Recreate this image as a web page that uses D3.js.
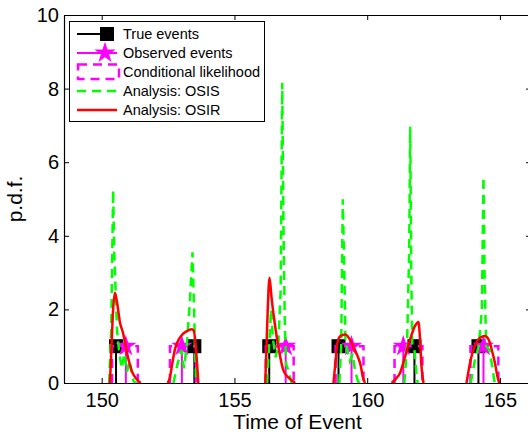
<!DOCTYPE html>
<html>
<head>
<meta charset="utf-8">
<script src="https://cdn.jsdelivr.net/npm/d3@7"></script>
<style>
  body { margin: 0; background: #fff; }
  svg { display: block; font-family: "Liberation Sans", Arial, sans-serif; }
</style>
</head>
<body>
<div id="chart"></div>
<script>
let W = 528, H = 432;

// event times
let trueTimes = [150.54, 153.49, 156.31, 158.92, 161.78, 164.19];
let obsTimes = [150.91, 153.02, 156.93, 159.41, 161.36, 164.38];
// conditional likelihood box edges
let likLo = [150.39, 152.57, 156.18, 158.81, 161.03, 163.89];
let likHi = [151.36, 153.55, 157.23, 159.86, 162.08, 164.94];

// OSIS pdfs (time, density)
let osis = [
  [[150.28,0],[150.36,1.5],[150.43,5.25],[150.47,3.6],[150.52,2.6],[150.58,1.4],[150.65,0.9],[150.75,0.4],[150.85,0.8],[150.95,0.3],[151.05,0.6],[151.2,0.05],[151.3,0]],
  [[152.7,0],[152.85,0.5],[153.0,0.9],[153.1,0.4],[153.2,1.0],[153.32,2.2],[153.42,3.55],[153.48,2.0],[153.52,0.8],[153.56,0]],
  [[156.22,0],[156.3,0.9],[156.38,2.0],[156.45,1.2],[156.55,0.7],[156.65,1.0],[156.74,2.5],[156.8,8.16],[156.85,4.0],[156.9,1.5],[156.95,0.5],[157.05,0.3],[157.15,0]],
  [[158.95,0],[159.02,1.0],[159.08,4.99],[159.14,3.0],[159.18,1.2],[159.25,0.9],[159.35,0.6],[159.45,0.8],[159.55,0.3],[159.65,0.05],[159.7,0]],
  [[161.4,0],[161.5,1.0],[161.58,3.5],[161.62,6.96],[161.66,3.0],[161.7,1.0],[161.78,0.9],[161.85,0.3],[161.9,0]],
  [[163.9,0],[164.05,0.6],[164.2,1.0],[164.32,2.0],[164.38,5.6],[164.42,3.0],[164.48,1.0],[164.6,0.9],[164.7,0.5],[164.8,0]]
];

// OSIR pdfs (time, density)
let osir = [
  [[150.31,0],[150.37,1.0],[150.43,2.0],[150.5,2.45],[150.58,2.18],[150.69,1.64],[150.8,1.37],[150.98,0.73],[151.13,0.33],[151.32,0.1],[151.47,0]],
  [[152.48,0],[152.57,0.15],[152.64,0.45],[152.76,0.92],[152.94,1.23],[153.21,1.41],[153.39,1.46],[153.47,1.42],[153.55,0.92],[153.64,0]],
  [[156.16,0],[156.23,1.5],[156.32,2.86],[156.4,2.3],[156.48,1.82],[156.67,0.92],[156.85,0.33],[157.08,0.12],[157.29,0]],
  [[158.73,0],[158.81,0.6],[158.88,1.1],[159.0,1.28],[159.17,1.32],[159.38,1.14],[159.52,0.9],[159.64,0.73],[159.76,0.46],[159.84,0.15],[159.92,0]],
  [[160.92,0],[161.06,0.1],[161.24,0.28],[161.43,0.73],[161.62,1.19],[161.8,1.55],[161.93,1.66],[161.99,1.2],[162.04,0.5],[162.12,0]],
  [[163.74,0],[163.81,0.3],[163.9,0.64],[164.06,1.01],[164.25,1.23],[164.44,1.28],[164.62,1.1],[164.71,0.85],[164.81,0.55],[164.9,0.2],[164.97,0]]
];

let xTicks = [150, 155, 160, 165];
let yTicks = [0, 2, 4, 6, 8, 10];
let legendLabels = ["True events", "Observed events", "Conditional likelihood", "Analysis: OSIS", "Analysis: OSIR"];

let pLeft = 64, pRight = 531, pTop = 15, pBottom = 383;

let svg = d3.select("#chart").append("svg")
  .attr("width", W)
  .attr("height", H);

let x = d3.scaleLinear().domain([148.58, 166.17]).range([pLeft, pRight]);
let y = d3.scaleLinear().domain([0, 10]).range([pBottom, pTop]);

let plot = svg.append("g");

let magenta = "#ff00ff", green = "#00ff00", red = "#ff0000";

// true events: stems + squares
trueTimes.forEach(function(t){
  plot.append("line")
    .attr("x1", x(t)).attr("x2", x(t))
    .attr("y1", y(0)).attr("y2", y(1))
    .attr("stroke", "#000").attr("stroke-width", 2);
  plot.append("path")
    .attr("d", d3.symbol(d3.symbolSquare).size(196)())
    .attr("transform", "translate(" + x(t) + "," + y(1) + ")")
    .attr("fill", "#000");
});

// observed events: stems + stars
obsTimes.forEach(function(t){
  plot.append("line")
    .attr("x1", x(t)).attr("x2", x(t))
    .attr("y1", y(0)).attr("y2", y(1))
    .attr("stroke", magenta).attr("stroke-width", 2);
  plot.append("path")
    .attr("d", d3.symbol(d3.symbolStar).size(140)())
    .attr("transform", "translate(" + x(t) + "," + y(1) + ")")
    .attr("fill", magenta);
});

// conditional likelihood boxes
likLo.forEach(function(lo, i){
  let hi = likHi[i];
  plot.append("path")
    .attr("d", "M" + x(lo) + "," + y(0) + "L" + x(lo) + "," + y(1) +
               "L" + x(hi) + "," + y(1) + "L" + x(hi) + "," + y(0))
    .attr("fill", "none")
    .attr("stroke", magenta).attr("stroke-width", 2.5)
    .attr("stroke-dasharray", "9,6");
});

let line = d3.line()
  .x(function(d){ return x(d[0]); })
  .y(function(d){ return y(d[1]); });

// OSIS
osis.forEach(function(c){
  plot.append("path")
    .attr("d", line(c))
    .attr("fill", "none")
    .attr("stroke", green).attr("stroke-width", 2.5)
    .attr("stroke-dasharray", "9,6");
});

// OSIR
let smooth = d3.line()
  .x(function(d){ return x(d[0]); })
  .y(function(d){ return y(d[1]); })
  .curve(d3.curveMonotoneX);
osir.forEach(function(c){
  plot.append("path")
    .attr("d", smooth(c))
    .attr("fill", "none")
    .attr("stroke", red).attr("stroke-width", 2.5);
});

// axes (ticks inward, box)
let tickLen = 5;
let gx = svg.append("g")
  .attr("transform", "translate(0," + pBottom + ")")
  .call(d3.axisBottom(x).tickValues(xTicks).tickSizeInner(-tickLen).tickSizeOuter(0).tickPadding(10));
let gy = svg.append("g")
  .attr("transform", "translate(" + pLeft + ",0)")
  .call(d3.axisLeft(y).tickValues(yTicks).tickSizeInner(-tickLen).tickSizeOuter(0).tickPadding(5));
let gt = svg.append("g")
  .attr("transform", "translate(0," + pTop + ")")
  .call(d3.axisTop(x).tickValues(xTicks).tickSizeInner(-tickLen).tickSizeOuter(0).tickFormat(""));
let gr = svg.append("g")
  .attr("transform", "translate(" + pRight + ",0)")
  .call(d3.axisRight(y).tickValues(yTicks).tickSizeInner(-tickLen).tickSizeOuter(0).tickFormat(""));

[gx, gy, gt, gr].forEach(function(g){
  g.selectAll(".domain").attr("stroke", "#000").attr("stroke-width", 1.2);
  g.selectAll(".tick line").attr("stroke", "#000");
  g.selectAll("text")
    .attr("fill", "#000")
    .style("font-size", "20px")
    .style("font-family", "'Liberation Sans', Arial, sans-serif");
});

// axis labels
svg.append("text")
  .attr("x", (pLeft + pRight) / 2)
  .attr("y", 429)
  .attr("text-anchor", "middle")
  .style("font-size", "21px")
  .text("Time of Event");

svg.append("text")
  .attr("transform", "translate(22," + (pTop + pBottom) / 2 + ") rotate(-90)")
  .attr("text-anchor", "middle")
  .style("font-size", "21px")
  .text("p.d.f.");

// legend
let lg = svg.append("g");
lg.append("rect")
  .attr("x", 69.5).attr("y", 21.5)
  .attr("width", 195).attr("height", 100)
  .attr("fill", "#fff").attr("stroke", "#000").attr("stroke-width", 1);

let rowY = [34, 53, 72, 91, 110];
let lx0 = 77, lx1 = 117;

// true events entry
lg.append("line").attr("x1", lx0).attr("x2", 107).attr("y1", rowY[0]).attr("y2", rowY[0])
  .attr("stroke", "#000").attr("stroke-width", 2);
lg.append("path")
  .attr("d", d3.symbol(d3.symbolSquare).size(196)())
  .attr("transform", "translate(107," + rowY[0] + ")")
  .attr("fill", "#000");

// observed entry
lg.append("line").attr("x1", lx0).attr("x2", lx1).attr("y1", rowY[1]).attr("y2", rowY[1])
  .attr("stroke", magenta).attr("stroke-width", 2);
lg.append("path")
  .attr("d", d3.symbol(d3.symbolStar).size(140)())
  .attr("transform", "translate(105," + rowY[1] + ")")
  .attr("fill", magenta);

// likelihood entry
lg.append("rect")
  .attr("x", 78).attr("y", 64.5).attr("width", 41).attr("height", 14.5)
  .attr("fill", "none").attr("stroke", magenta).attr("stroke-width", 2.5)
  .attr("stroke-dasharray", "9,6");

// OSIS entry
lg.append("line").attr("x1", lx0).attr("x2", lx1).attr("y1", rowY[3]).attr("y2", rowY[3])
  .attr("stroke", green).attr("stroke-width", 2.5).attr("stroke-dasharray", "9,6");

// OSIR entry
lg.append("line").attr("x1", lx0).attr("x2", lx1).attr("y1", rowY[4]).attr("y2", rowY[4])
  .attr("stroke", red).attr("stroke-width", 2.5);

lg.selectAll(".lab")
  .data(legendLabels)
  .enter().append("text")
  .attr("class", "lab")
  .attr("x", 123)
  .attr("y", function(d, i){ return rowY[i] + 5; })
  .style("font-size", "14.5px")
  .text(function(d){ return d; });
</script>
</body>
</html>
